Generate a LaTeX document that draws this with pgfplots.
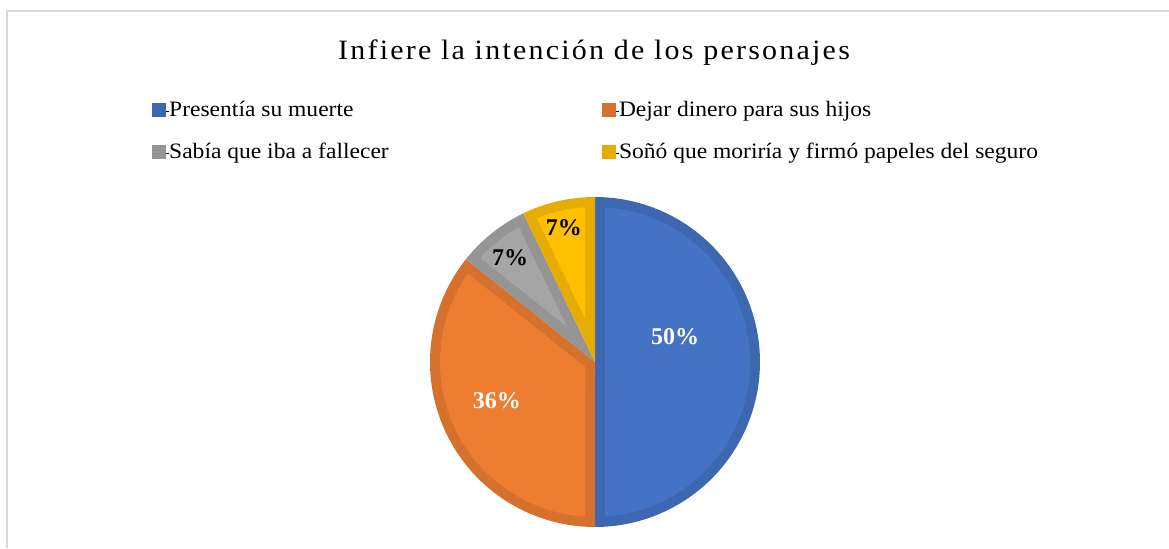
\documentclass[border=0pt]{standalone}
\usepackage{fontspec}
\setmainfont{Liberation Serif}
\usepackage{pgfplots}
\pgfplotsset{compat=1.18}
\usepackage{pgfplotstable}

\definecolor{bluefill}{HTML}{4472C4}
\definecolor{bluedark}{HTML}{3D67B0}
\definecolor{orangefill}{HTML}{ED7D31}
\definecolor{orangedark}{HTML}{D5712C}
\definecolor{grayfill}{HTML}{A5A5A5}
\definecolor{graydark}{HTML}{959595}
\definecolor{yellowfill}{HTML}{FFC000}
\definecolor{yellowdark}{HTML}{E6AD00}
\definecolor{framegray}{HTML}{D9D9D9}

\pgfplotstableread{
label value
Presentia 7
Dejar 5
Sabia 1
Sono 1
}\piedata

\newcommand\defwedge[3]{%
 \pgfmathsetmacro\tmpH{(#2-#3)/2}%
 \pgfmathsetmacro\tmpM{(#2+#3)/2}%
 \pgfmathsetmacro\tmpP{\dd/sin(\tmpH)}%
 \pgfmathsetmacro\tmpX{\tmpP*cos(\tmpM)}%
 \pgfmathsetmacro\tmpY{\tmpP*sin(\tmpM)}%
 \pgfmathsetmacro\tmpLo{#3+\del}%
 \pgfmathsetmacro\tmpHi{#2-\del}%
 \expandafter\xdef\csname px#1\endcsname{\tmpX}%
 \expandafter\xdef\csname py#1\endcsname{\tmpY}%
 \expandafter\xdef\csname lo#1\endcsname{\tmpLo}%
 \expandafter\xdef\csname hi#1\endcsname{\tmpHi}%
}
\newfontfamily\legendfont[FakeStretch=1.07]{Liberation Serif}
\newfontfamily\titlefont[FakeStretch=1.07, LetterSpace=8]{Liberation Serif}

\begin{document}%
\begin{tikzpicture}
\pgfplotstablegetelem{0}{value}\of\piedata \global\let\vA\pgfplotsretval
\pgfplotstablegetelem{1}{value}\of\piedata \global\let\vB\pgfplotsretval
\pgfplotstablegetelem{2}{value}\of\piedata \global\let\vC\pgfplotsretval
\pgfplotstablegetelem{3}{value}\of\piedata \global\let\vD\pgfplotsretval
\pgfmathsetmacro\tot{\vA+\vB+\vC+\vD}
\pgfmathsetmacro\aA{90}
\pgfmathsetmacro\aB{\aA-360*\vA/\tot}
\pgfmathsetmacro\aC{\aB-360*\vB/\tot}
\pgfmathsetmacro\aD{\aC-360*\vC/\tot}
\pgfmathsetmacro\aE{\aD-360*\vD/\tot}
\pgfmathsetmacro\dd{10/165}
\pgfmathsetmacro\rr{1-\dd}
\pgfmathsetmacro\del{asin(\dd/\rr)}
\defwedge{A}{\aA}{\aB}
\defwedge{B}{\aB}{\aC}
\defwedge{C}{\aC}{\aD}
\defwedge{D}{\aD}{\aE}
\useasboundingbox (0pt,0pt) rectangle (584.5pt,274pt);
\draw[framegray, line width=0.75pt] (3.5pt,0pt) -- (3.5pt,268.5pt) -- (584.5pt,268.5pt);
\node[anchor=base, inner sep=0pt, font=\titlefont\fontsize{14}{17}\selectfont] at (297pt,244pt) {Infiere la intención de los personajes};
\begin{axis}[
  hide axis, clip=false,
  xmin=-1, xmax=1, ymin=-1, ymax=1,
  width=165pt, height=165pt, scale only axis,
  at={(297.5pt,93pt)}, anchor=center,
  legend columns=2,
  legend cell align=left,
  legend style={at={(-0.8424,1.2924)}, anchor=north west, draw=none, fill=none,
    inner sep=0pt, font=\legendfont\fontsize{11}{13}\selectfont,
    nodes={inner sep=0pt, text height=8pt, text depth=2.5pt},
    row sep=10.5pt, column sep=0pt},
]
\addplot[fill=bluedark, draw=none, domain=\aB:\aA, samples=120, forget plot] ({cos(x)},{sin(x)}) -- (axis cs:0,0) -- cycle;
\addplot[fill=bluefill, draw=none, domain=\loA:\hiA, samples=120, forget plot] ({\rr*cos(x)},{\rr*sin(x)}) -- (axis cs:\pxA,\pyA) -- cycle;
\addplot[fill=orangedark, draw=none, domain=\aC:\aB, samples=100, forget plot] ({cos(x)},{sin(x)}) -- (axis cs:0,0) -- cycle;
\addplot[fill=orangefill, draw=none, domain=\loB:\hiB, samples=100, forget plot] ({\rr*cos(x)},{\rr*sin(x)}) -- (axis cs:\pxB,\pyB) -- cycle;
\addplot[fill=graydark, draw=none, domain=\aD:\aC, samples=30, forget plot] ({cos(x)},{sin(x)}) -- (axis cs:0,0) -- cycle;
\addplot[fill=grayfill, draw=none, domain=\loC:\hiC, samples=30, forget plot] ({\rr*cos(x)},{\rr*sin(x)}) -- (axis cs:\pxC,\pyC) -- cycle;
\addplot[fill=yellowdark, draw=none, domain=\aE:\aD, samples=30, forget plot] ({cos(x)},{sin(x)}) -- (axis cs:0,0) -- cycle;
\addplot[fill=yellowfill, draw=none, domain=\loD:\hiD, samples=30, forget plot] ({\rr*cos(x)},{\rr*sin(x)}) -- (axis cs:\pxD,\pyD) -- cycle;
\node[white, font=\fontsize{12}{14}\selectfont\bfseries] at (axis cs:0.485,0.152) {50\%};
\node[white, font=\fontsize{12}{14}\selectfont\bfseries] at (axis cs:-0.594,-0.236) {36\%};
\node[black, font=\fontsize{12}{14}\selectfont\bfseries] at (axis cs:-0.515,0.630) {7\%};
\node[black, font=\fontsize{12}{14}\selectfont\bfseries] at (axis cs:-0.188,0.812) {7\%};
\addlegendimage{legend image code/.code={\path (0pt,0pt) -- (8pt,0pt); \fill[bluedark] (0pt,-2.25pt) rectangle (6.5pt,4.25pt);}}
\addlegendentry{\makebox[216.5pt][l]{Presentía su muerte}}
\addlegendimage{legend image code/.code={\path (0pt,0pt) -- (8pt,0pt); \fill[orangedark] (0pt,-2.25pt) rectangle (6.5pt,4.25pt);}}
\addlegendentry{Dejar dinero para sus hijos}
\addlegendimage{legend image code/.code={\path (0pt,0pt) -- (8pt,0pt); \fill[graydark] (0pt,-2.25pt) rectangle (6.5pt,4.25pt);}}
\addlegendentry{\makebox[216.5pt][l]{Sabía que iba a fallecer}}
\addlegendimage{legend image code/.code={\path (0pt,0pt) -- (8pt,0pt); \fill[yellowdark] (0pt,-2.25pt) rectangle (6.5pt,4.25pt);}}
\addlegendentry{Soñó que moriría y firmó papeles del seguro}
\end{axis}
\end{tikzpicture}%
\end{document}
